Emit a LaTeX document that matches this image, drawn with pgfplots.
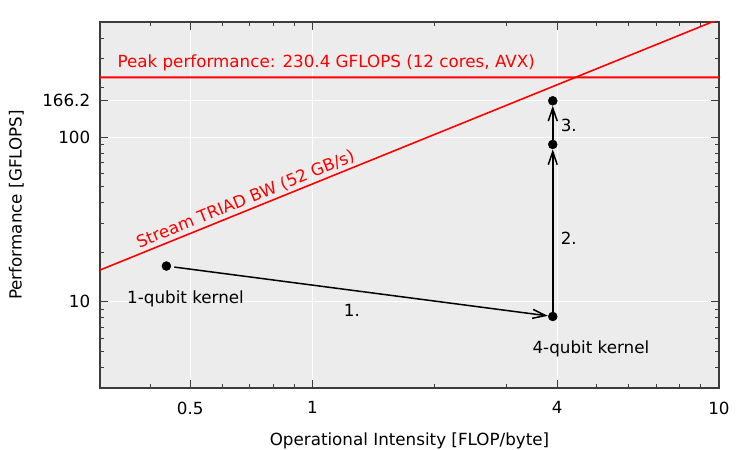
\documentclass[border=0pt]{standalone}
\usepackage{fontspec}
\setmainfont{DejaVu Sans}
\usepackage{pgfplots}
\pgfplotsset{compat=1.18}
\usetikzlibrary{arrows.meta}
\definecolor{bg}{RGB}{236,236,236}
\definecolor{framec}{RGB}{60,60,60}
\definecolor{peakred}{RGB}{255,0,0}
\begin{document}
\fontsize{16.8}{20}\selectfont
\begin{tikzpicture}
\begin{axis}[
 xmode=log, ymode=log,
 scale only axis, width=619bp, height=366bp,
 xmin=0.3, xmax=10, ymin=3, ymax=500,
 axis background/.style={fill=bg},
 axis line style={framec, line width=1.2bp},
 xtick={0.5,1,4,10}, xticklabels={0.5,1,4,10},
 minor xtick={0.4,0.6,0.7,0.8,0.9,2,3,5,6,7,8,9},
 ytick={10,100,166.2}, yticklabels={10,100,166.2},
 minor ytick={4,5,6,7,8,9,20,30,40,50,60,70,80,90,200,300,400},
 /pgf/number format/assume math mode=true,
 tick style={framec, line width=0.8bp},
 major tick length=8bp, minor tick length=4bp,
 tick align=inside,
 grid=major, major grid style={white, line width=1.2bp},
 xticklabel style={yshift=-8bp},
 yticklabel style={xshift=-4bp},
 xlabel={Operational Intensity [FLOP/byte]},
 ylabel={Performance [GFLOPS]},
 xlabel style={yshift=-7bp},
 ylabel style={yshift=7bp},
 clip=true,
]
\addplot[draw=peakred, line width=1.6bp] coordinates {(0.3,15.6) (10,520)};
\addplot[draw=peakred, line width=2bp] coordinates {(0.25,230.4) (1,230.41) (12,230.4)};
\addplot[black, line width=1.5bp, -{Straight Barb[length=13bp,width=9bp]}, shorten <=8bp, shorten >=5bp] coordinates {(0.437,16.5) (3.9,8.15)};
\addplot[black, line width=1.5bp, -{Straight Barb[length=13bp,width=9bp]}, shorten <=4bp, shorten >=5bp] coordinates {(3.9,8.15) (3.9,90.3)};
\addplot[black, line width=1.5bp, -{Straight Barb[length=13bp,width=9bp]}, shorten <=4bp, shorten >=5bp] coordinates {(3.9,90.3) (3.9,166.2)};
\addplot[only marks, mark=*, mark size=4.5bp, black] coordinates {(0.437,16.5) (3.9,8.15) (3.9,90.3) (3.9,166.2)};
\node at (0.487,10.4) {1-qubit kernel};
\node at (4.84,5.19) {4-qubit kernel};
\node at (1.25,8.82) {1.};
\node at (4.27,24.4) {2.};
\node at (4.27,118) {3.};
\node[red, anchor=west, inner sep=0pt] at (0.331,281) {Peak performance: 230.4 GFLOPS (12 cores, AVX)};
\node[red, rotate=22.1, anchor=south, inner sep=3bp] at (0.70,36.4) {Stream TRIAD BW (52 GB/s)};
\coordinate (O) at (rel axis cs:0,0);
\end{axis}
\pgfresetboundingbox
\path (O) ++(-100bp,-62bp) rectangle ++(750bp,450bp);
\end{tikzpicture}
\end{document}
